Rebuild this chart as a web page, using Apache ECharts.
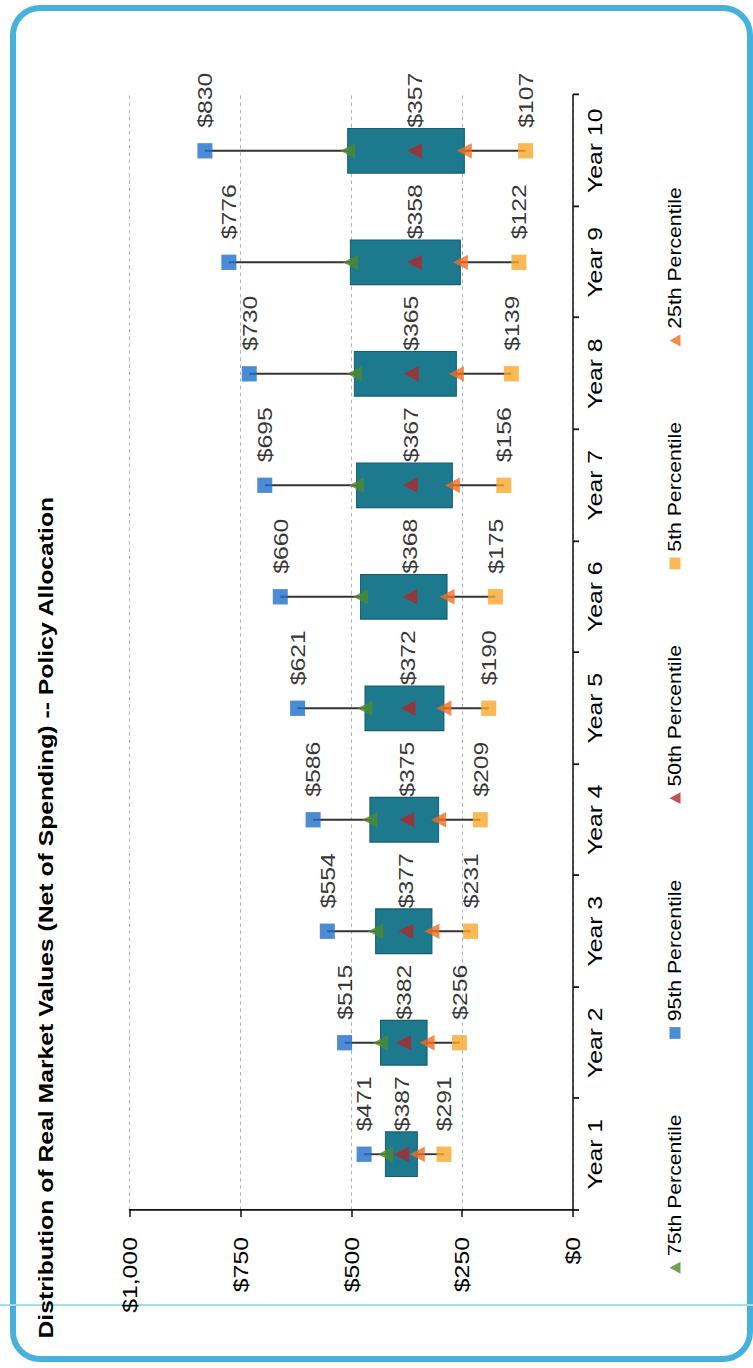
<!DOCTYPE html>
<html lang="en">
<head>
<meta charset="utf-8">
<style>
  html, body { margin: 0; width: 753px; height: 1368px; background: #fff; overflow: hidden; }
  #frame { position: absolute; left: 10px; top: 5px; width: 743px; height: 1357px; box-sizing: border-box;
           border: 6px solid #46b2dc; border-radius: 30px; }
  #scanline { position: absolute; left: 0; top: 1304px; width: 753px; height: 2px; background: #a6dcea; }
  /* the chart is laid out landscape and turned a quarter turn, like the scanned page */
  #container { position: absolute; left: 0; top: 0; width: 1160px; height: 753px;
               transform-origin: 0 0; transform: translate(0px, 1368px) rotate(-90deg) scaleX(1.1793); }
</style>
</head>
<body>
  <div id="frame"></div>
  <div id="scanline"></div>
  <div id="container"></div>

  <script type="text/javascript" src="https://cdn.jsdelivr.net/npm/echarts@6/dist/echarts.min.js"></script>
  <script type="text/javascript">
    var years = ['Year 1', 'Year 2', 'Year 3', 'Year 4', 'Year 5', 'Year 6', 'Year 7', 'Year 8', 'Year 9', 'Year 10'];
    var p95 = [471, 515, 554, 586, 621, 660, 695, 730, 776, 830];
    var p75 = [423, 434, 445, 458, 469, 479, 488, 493, 502, 508];
    var p50 = [387, 382, 377, 375, 372, 368, 367, 365, 358, 357];
    var p25 = [351, 329, 318, 303, 291, 284, 272, 263, 254, 245];
    var p5 = [291, 256, 231, 209, 190, 175, 156, 139, 122, 107];
    var valueTicks = [0, 250, 500, 750, 1000];

    var font = "'Liberation Sans', Arial, sans-serif";

    var boxData = years.map(function (y, i) {
      return [i, p95[i], p75[i], p25[i], p5[i]];
    });

    function money(v) {
      return '$' + String(v).replace(/\B(?=(\d{3})+(?!\d))/g, ',');
    }

    var dom = document.getElementById('container');
    var myChart = echarts.init(dom, null, { renderer: 'svg' });

    var labelStyle = {
      show: true,
      position: 'right',
      distance: 13,
      color: '#000',
      fontSize: 21,
      fontFamily: font,
      formatter: function (p) { return money(p.value); }
    };

    var option = {
      animation: false,
      textStyle: { fontFamily: font },
      title: {
        text: 'Distribution of Real Market Values (Net of Spending) -- Policy Allocation',
        left: 25,
        top: 35,
        padding: 0,
        textStyle: { fontSize: 21, fontWeight: 'bold', color: '#000', fontFamily: font }
      },
      legend: {
        data: ['75th Percentile', '95th Percentile', '50th Percentile', '5th Percentile', '25th Percentile'],
        left: 80,
        top: 666,
        padding: 0,
        itemGap: 64,
        itemWidth: 10,
        itemHeight: 11,
        textStyle: { fontSize: 18, color: '#000', fontFamily: font }
      },
      grid: { left: 134, right: 80.6, top: 129.5, bottom: 180, containLabel: false },
      xAxis: {
        type: 'category',
        data: years,
        boundaryGap: true,
        axisLine: { lineStyle: { color: '#111', width: 1.5 } },
        axisTick: { show: true, length: 6, lineStyle: { color: '#111', width: 1.5 } },
        axisLabel: { color: '#000', fontSize: 21, margin: 11, fontFamily: font },
        splitLine: { show: false }
      },
      yAxis: {
        type: 'value',
        min: valueTicks[0],
        max: valueTicks[valueTicks.length - 1],
        interval: 250,
        axisLine: { show: true, lineStyle: { color: '#111', width: 1.5 } },
        axisTick: { show: true, length: 6, lineStyle: { color: '#111', width: 1.5 } },
        axisLabel: { color: '#000', fontSize: 21, margin: 23, fontFamily: font, formatter: money },
        splitLine: { show: true, lineStyle: { color: '#aab3c6', width: 1, type: [3, 3] } }
      },
      series: [
        {
          name: 'box',
          type: 'custom',
          data: boxData,
          encode: { x: 0, y: [1, 2, 3, 4] },
          z: 2,
          renderItem: function (params, api) {
            var x = api.value(0);
            var top = api.coord([x, api.value(1)]);
            var q3 = api.coord([x, api.value(2)]);
            var q1 = api.coord([x, api.value(3)]);
            var bot = api.coord([x, api.value(4)]);
            var w = api.size([1, 0])[0] * 0.4;
            var lineStyle = { stroke: '#333', lineWidth: 1.6 };
            return {
              type: 'group',
              children: [
                { type: 'line', shape: { x1: top[0], y1: top[1], x2: q3[0], y2: q3[1] }, style: lineStyle },
                { type: 'line', shape: { x1: q1[0], y1: q1[1], x2: bot[0], y2: bot[1] }, style: lineStyle },
                {
                  type: 'rect',
                  shape: { x: q3[0] - w / 2, y: q3[1], width: w, height: q1[1] - q3[1] },
                  style: { fill: '#1d7a8e', stroke: '#165e6c', lineWidth: 1 }
                }
              ]
            };
          }
        },
        {
          name: '95th Percentile', type: 'scatter', data: p95, z: 5,
          symbol: 'rect', symbolSize: [13, 15],
          itemStyle: { color: '#1f6fc9' }, label: labelStyle
        },
        {
          name: '75th Percentile', type: 'scatter', data: p75, z: 5,
          symbol: 'triangle', symbolSize: [13, 15],
          itemStyle: { color: '#4f8a2c' }
        },
        {
          name: '50th Percentile', type: 'scatter', data: p50, z: 5,
          symbol: 'triangle', symbolSize: [13, 15],
          itemStyle: { color: '#b3262a' }, label: labelStyle
        },
        {
          name: '25th Percentile', type: 'scatter', data: p25, z: 5,
          symbol: 'triangle', symbolSize: [13, 15],
          itemStyle: { color: '#f26d21' }
        },
        {
          name: '5th Percentile', type: 'scatter', data: p5, z: 5,
          symbol: 'rect', symbolSize: [13, 15],
          itemStyle: { color: '#f9a82a' }, label: labelStyle
        }
      ]
    };

    myChart.setOption(option);
  </script>
</body>
</html>
